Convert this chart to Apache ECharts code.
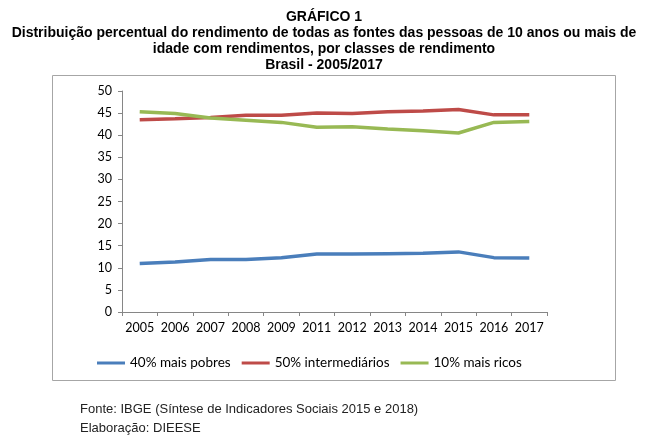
<!DOCTYPE html>
<html><head><meta charset="utf-8">
<script src="https://cdn.jsdelivr.net/npm/echarts@6/dist/echarts.min.js"></script>
<style>html,body{margin:0;padding:0;background:#fff}#c{width:650px;height:439px}</style>
</head><body><div id="c"></div>
<script>
const categories = ['2005','2006','2007','2008','2009','2011','2012','2013','2014','2015','2016','2017'];
const pobres = [11.0, 11.3, 11.9, 11.9, 12.3, 13.1, 13.1, 13.2, 13.3, 13.6, 12.3, 12.2];
const intermediarios = [43.5, 43.7, 44.0, 44.5, 44.5, 45.0, 44.9, 45.3, 45.5, 45.8, 44.6, 44.6];
const ricos = [45.3, 44.9, 43.9, 43.4, 42.9, 41.8, 41.9, 41.4, 41.0, 40.5, 42.9, 43.1];
const seriesNames = ['40% mais pobres', '50% intermediários', '10% mais ricos'];
const yTicks = [0, 50, 5];
const titleLines = [
  'GRÁFICO 1',
  'Distribuição percentual do rendimento de todas as fontes das pessoas de 10 anos ou mais de',
  'idade com rendimentos, por classes de rendimento',
  'Brasil - 2005/2017'
];
const footerLines = ['Fonte: IBGE (Síntese de Indicadores Sociais 2015 e 2018)', 'Elaboração: DIEESE'];

const chart = echarts.init(document.getElementById('c'));
const axisFont = 'Lato, "Open Sans", sans-serif';
const titleYs = [17, 33, 49, 65];
const graphics = [
  {type:'rect', shape:{x:52.5, y:75.5, width:563, height:305}, style:{fill:'none', stroke:'#a6a6a6', lineWidth:1}, z:-1}
];
titleLines.forEach((t,i)=>graphics.push({type:'text', x:324, y:titleYs[i], style:{text:t, fill:'#000', font:'bold 14px "Liberation Sans", Arial, sans-serif', align:'center', verticalAlign:'middle'}}));
footerLines.forEach((t,i)=>graphics.push({type:'text', x:80, y:409+i*19, style:{text:t, fill:'#222', font:'13px "Liberation Sans", Arial, sans-serif', align:'left', verticalAlign:'middle'}}));

const colors = ['#4A7EBB', '#BE4B48', '#98B954'];
chart.setOption({
  animation:false,
  color: colors,
  graphic: graphics,
  grid:{left:122, right:103, top:91, bottom:127, containLabel:false},
  legend:{
    data: seriesNames, top: 351, left: 92, itemWidth: 28, itemHeight: 3, itemGap: 11,
    icon: 'rect',
    textStyle:{fontFamily: axisFont, fontSize: 13.5, color:'#000'}
  },
  xAxis:{
    type:'category', data: categories, boundaryGap:true,
    axisLine:{lineStyle:{color:'#868686', width:1}},
    axisTick:{show:true, alignWithLabel:false, length:4, lineStyle:{color:'#868686'}},
    axisLabel:{color:'#000', fontFamily: axisFont, fontSize: 12.5, margin: 9, interval:0}
  },
  yAxis:{
    type:'value', min: yTicks[0], max: yTicks[1], interval: yTicks[2],
    axisLine:{show:true, lineStyle:{color:'#868686', width:1}},
    axisTick:{show:true, length:4, lineStyle:{color:'#868686'}},
    splitLine:{show:false},
    axisLabel:{color:'#000', fontFamily: axisFont, fontSize: 12.5, margin: 10}
  },
  series:[
    {name: seriesNames[0], type:'line', data: pobres, symbol:'none', lineStyle:{width:3.5}},
    {name: seriesNames[1], type:'line', data: intermediarios, symbol:'none', lineStyle:{width:3.5}},
    {name: seriesNames[2], type:'line', data: ricos, symbol:'none', lineStyle:{width:3.5}}
  ]
});
</script></body></html>
